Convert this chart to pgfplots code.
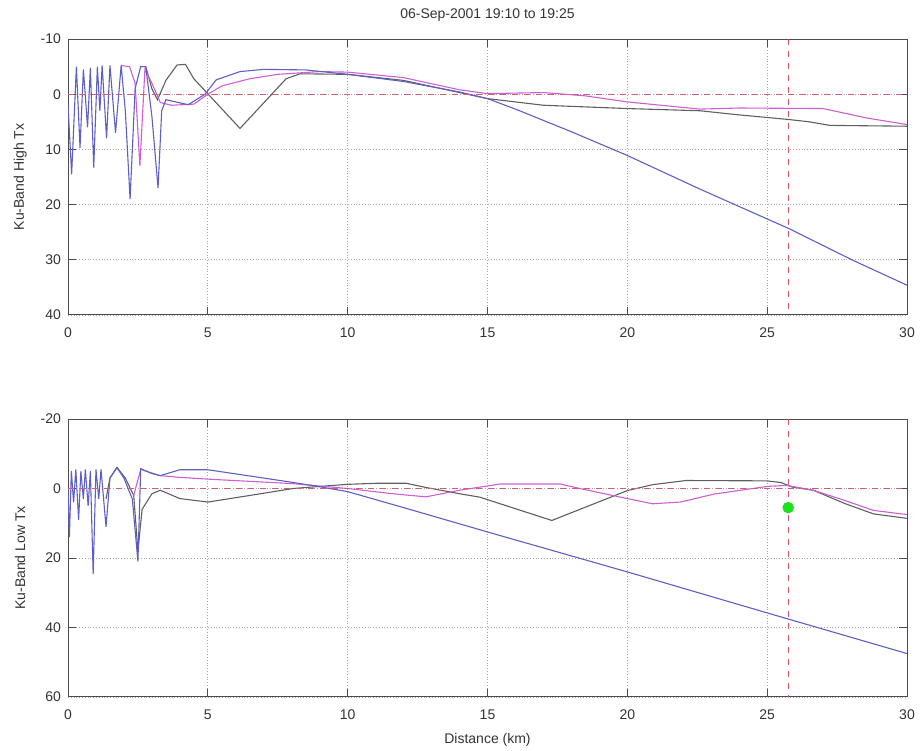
\documentclass[border=0pt]{standalone}
\usepackage{fontspec}
\setmainfont{Liberation Sans}
\usepackage{pgfplots}
\pgfplotsset{compat=1.18}
\definecolor{cblue}{RGB}{95,95,195}
\definecolor{cmag}{RGB}{205,95,210}
\definecolor{cgray}{RGB}{95,95,95}
\definecolor{cred}{RGB}{215,90,115}
\definecolor{cgreen}{RGB}{30,225,30}
\pgfplotsset{
  mystyle/.style={
    scale only axis,
    width=419.5pt,
    xmin=0, xmax=30,
    xtick={0,5,...,30},
    y dir=reverse,
    grid=major,
    major grid style={densely dotted, black!35, line width=0.4pt},
    axis line style={black!70, line width=0.5pt},
    tick style={black!70, line width=0.5pt},
    major tick length=4pt,
    /pgf/number format/assume math mode=true,
    tick label style={font=\fontsize{7}{8}\selectfont, text=black!80},
    label style={font=\fontsize{7}{8}\selectfont, text=black!80},
    title style={font=\fontsize{7}{8}\selectfont, text=black!80},
    xticklabel style={yshift=-3pt},
    ylabel style={at={(axis description cs:-0.057,0.5)}, anchor=center},
    every axis plot/.append style={line width=0.55pt},
  }
}
\begin{document}
\begin{tikzpicture}[x=1pt,y=1pt]
\path[use as bounding box] (0,0) rectangle (460,-375);
% ---------------- top panel ----------------
\begin{axis}[mystyle, at={(34pt,-19.5pt)}, anchor=north west,
  height=138pt, ymin=-10, ymax=40, ytick={-10,0,...,40},
  title={06-Sep-2001 19:10 to 19:25},
  title style={at={(axis description cs:0.5,1.087)}, anchor=center, yshift=-6pt},
  ylabel={Ku-Band High Tx}]
\addplot[cgray] coordinates {
(2.78,-5) (3.0,-1) (3.2,1) (3.5,-2.5) (3.9,-5.3) (4.2,-5.4) (4.5,-2.8)
(6.15,6.2) (7.8,-2.8) (8.3,-3.7) (10,-3.6) (12,-2.5) (14,-0.3) (15,0.8)
(17,2) (20,2.6) (22.6,3.0) (23.9,3.7) (24.96,4.2) (25.8,4.6) (26.5,5.0)
(27.25,5.65) (30,5.8)};
\addplot[cmag] coordinates {
(1.9,-5.2) (2.2,-5) (2.4,-2) (2.57,13) (2.75,-4.5) (3.0,-2) (3.3,1.5)
(3.7,2) (4.5,1.8) (5,0) (5.5,-1.5) (6.5,-2.8) (7.5,-3.6) (9,-4.1)
(10,-4.0) (12,-3) (14,-0.8) (15,-0.1) (17,-0.3) (18.5,0.3) (20,1.4)
(22.6,2.7) (24,2.5) (27,2.6) (28.55,4.3) (30,5.5)};
\addplot[cblue] coordinates {
(0,2) (0.13,14.5) (0.3,-5) (0.43,9.7) (0.55,-4.5) (0.7,6) (0.8,-4.8)
(0.92,13.3) (1.05,-5) (1.14,3) (1.22,-5.2) (1.38,8) (1.5,-5.2) (1.7,7)
(1.9,-5.2) (2.05,3) (2.22,19) (2.4,-1) (2.6,-5) (2.78,-5) (3.0,4)
(3.22,17) (3.35,3) (3.5,1) (4.3,1.9) (4.9,0) (5.3,-2.6) (6.15,-4.1)
(7,-4.5) (8.5,-4.4) (10,-3.6) (12,-2.3) (14,-0.4) (15,0.8) (16,2.7)
(18,6.8) (20,11.1) (22.6,17.2) (25.8,24.4) (28.07,30.1) (30,34.6)};
\addplot[cred, dashed, line width=0.5pt] coordinates {(0,0) (30,0)};
\addplot[cred, dashed, line width=0.5pt] coordinates {(25.78,-10) (25.78,40)};
\end{axis}
% ---------------- bottom panel ----------------
\begin{axis}[mystyle, at={(34pt,-209.5pt)}, anchor=north west,
  height=139pt, ymin=-20, ymax=60, ytick={-20,0,...,60},
  xlabel={Distance (km)},
  xlabel style={at={(axis description cs:0.5,-0.155)}, anchor=center},
  ylabel={Ku-Band Low Tx}]
\addplot[cgray] coordinates {
(1.36,3) (1.5,-3) (1.75,-6.1) (2.05,-3) (2.35,2) (2.5,18) (2.65,6)
(3.0,1.5) (3.3,0.5) (4,2.9) (5,3.9) (6.5,2) (8.05,0) (9,-0.6) (10,-1.2)
(11,-1.5) (12.1,-1.5) (12.8,-0.3) (14,1.5) (14.73,2.5) (17.3,9.2)
(20,0.6) (20.9,-1.1) (22.1,-2.3) (25,-2.2) (25.5,-1.7) (25.9,-0.4)
(26.65,0.5) (27.8,4.4) (28.8,7.3) (30,8.6)};
\addplot[cmag] coordinates {
(2.35,2) (2.6,-5.5) (3.3,-3.7) (4,-3.2) (5,-2.7) (8.05,-1.4) (10,0)
(11.6,1.5) (12.8,2.4) (14,0.5) (15.45,-1.3) (17.6,-1.3) (18.3,0)
(20,2.9) (20.9,4.4) (21.9,3.9) (23.1,1.6) (25,-0.6) (25.7,-0.9)
(26.65,0.5) (27.8,3.5) (28.8,6.3) (30,7.5)};
\addplot[cblue] coordinates {
(0,0) (0.05,14) (0.12,-5) (0.2,4) (0.28,-5.5) (0.38,9) (0.46,-5)
(0.55,3) (0.62,-5.5) (0.72,5) (0.8,-5) (0.9,24.6) (1.0,-5.5) (1.1,3)
(1.18,-5.5) (1.36,11) (1.5,-3) (1.75,-6) (2.0,-3) (2.3,3) (2.5,21)
(2.6,-5.7) (3.0,-4.3) (3.3,-3.7) (4,-5.4) (5,-5.4) (6.5,-3.6) (8,-1.8)
(9,-0.5) (10,0.9) (11,3.2) (12,5.5) (15,12.5) (20,24) (25,35.8)
(30,47.5)};
\addplot[cred, dashed, line width=0.5pt] coordinates {(0,0) (30,0)};
\addplot[cred, dashed, line width=0.5pt] coordinates {(25.78,-20) (25.78,60)};
\addplot[only marks, mark=*, mark size=2.6pt, cgreen, mark options={draw=cgreen, fill=cgreen}] coordinates {(25.75,5.5)};
\end{axis}
\end{tikzpicture}
\end{document}
